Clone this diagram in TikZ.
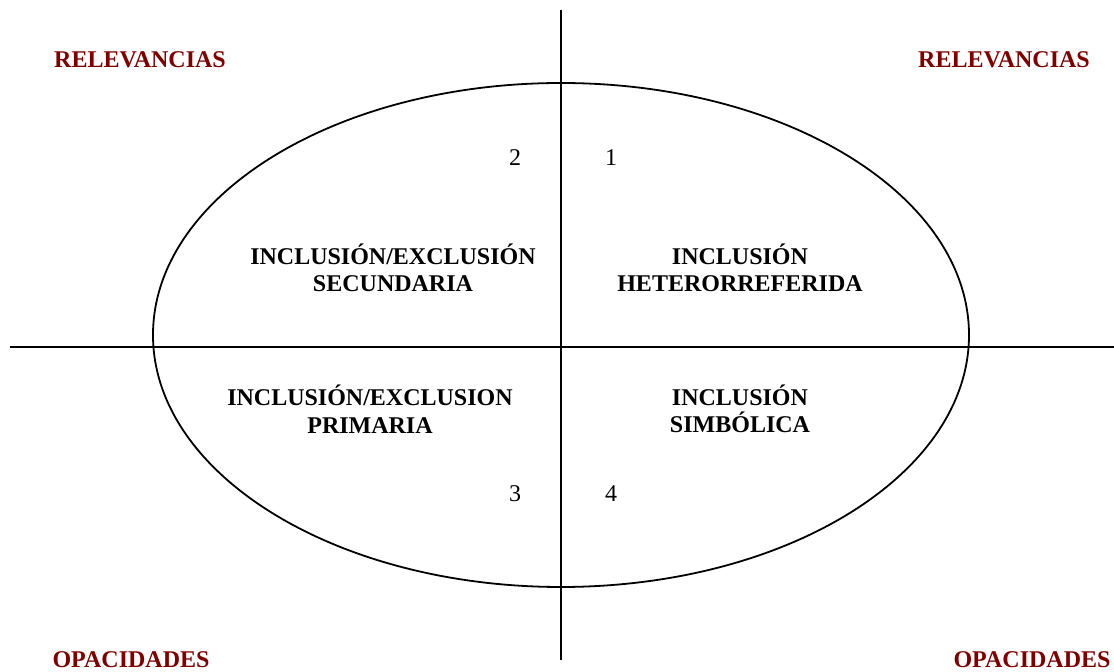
\documentclass[tikz,border=0pt]{standalone}
\usepackage{fontspec}
\setmainfont{Liberation Serif}
\usepackage{xcolor}
\usetikzlibrary{calc}
\definecolor{granate}{HTML}{800000}

\begin{document}
\begin{tikzpicture}[x=0.5pt,y=-0.5pt,
    pole/.style={font=\bfseries\fontsize{12}{13.8}\selectfont,text=granate,inner sep=0pt},
    zona/.style={font=\bfseries\fontsize{12}{13.8}\selectfont,align=center,inner sep=0pt},
    num/.style={font=\fontsize{12}{13.8}\selectfont,inner sep=0pt}]
  \useasboundingbox (0,0) rectangle (1114,672);
  \clip (0,0) rectangle (1114,672);
  % ejes
  \coordinate (arriba) at (561,10);
  \coordinate (abajo) at (561,660);
  \coordinate (izq) at (10,347);
  \coordinate (der) at (1114,347);
  \draw[line width=0.75pt] (arriba) -- (abajo);
  \draw[line width=0.75pt] (izq) -- (der);
  \draw[line width=0.9pt] (561,335) ellipse [x radius=408, y radius=252];
  % cuadrantes
  \node[num] (n2) at (515,158) {2};
  \node[num] (n1) at (611,158) {1};
  \node[num] (n3) at (515,494) {3};
  \node[num] (n4) at (611,494) {4};
  \node[zona] (secund) at (393,268) {INCLUSIÓN/EXCLUSIÓN\\SECUNDARIA};
  \node[zona] (hetero) at (740,268) {INCLUSIÓN\\HETERORREFERIDA};
  \node[zona] (primar) at (370,409) {INCLUSIÓN/EXCLUSION\\PRIMARIA};
  \node[zona] (simbol) at (740,409) {INCLUSIÓN\\SIMBÓLICA};
  % polos
  \node[pole] (relizq) at (140,60) {RELEVANCIAS};
  \node[pole] (relder) at (1004,60) {RELEVANCIAS};
  \node[pole] (opaizq) at (131,660) {OPACIDADES};
  \node[pole] (opader) at (1032,660) {OPACIDADES};
\end{tikzpicture}
\end{document}
